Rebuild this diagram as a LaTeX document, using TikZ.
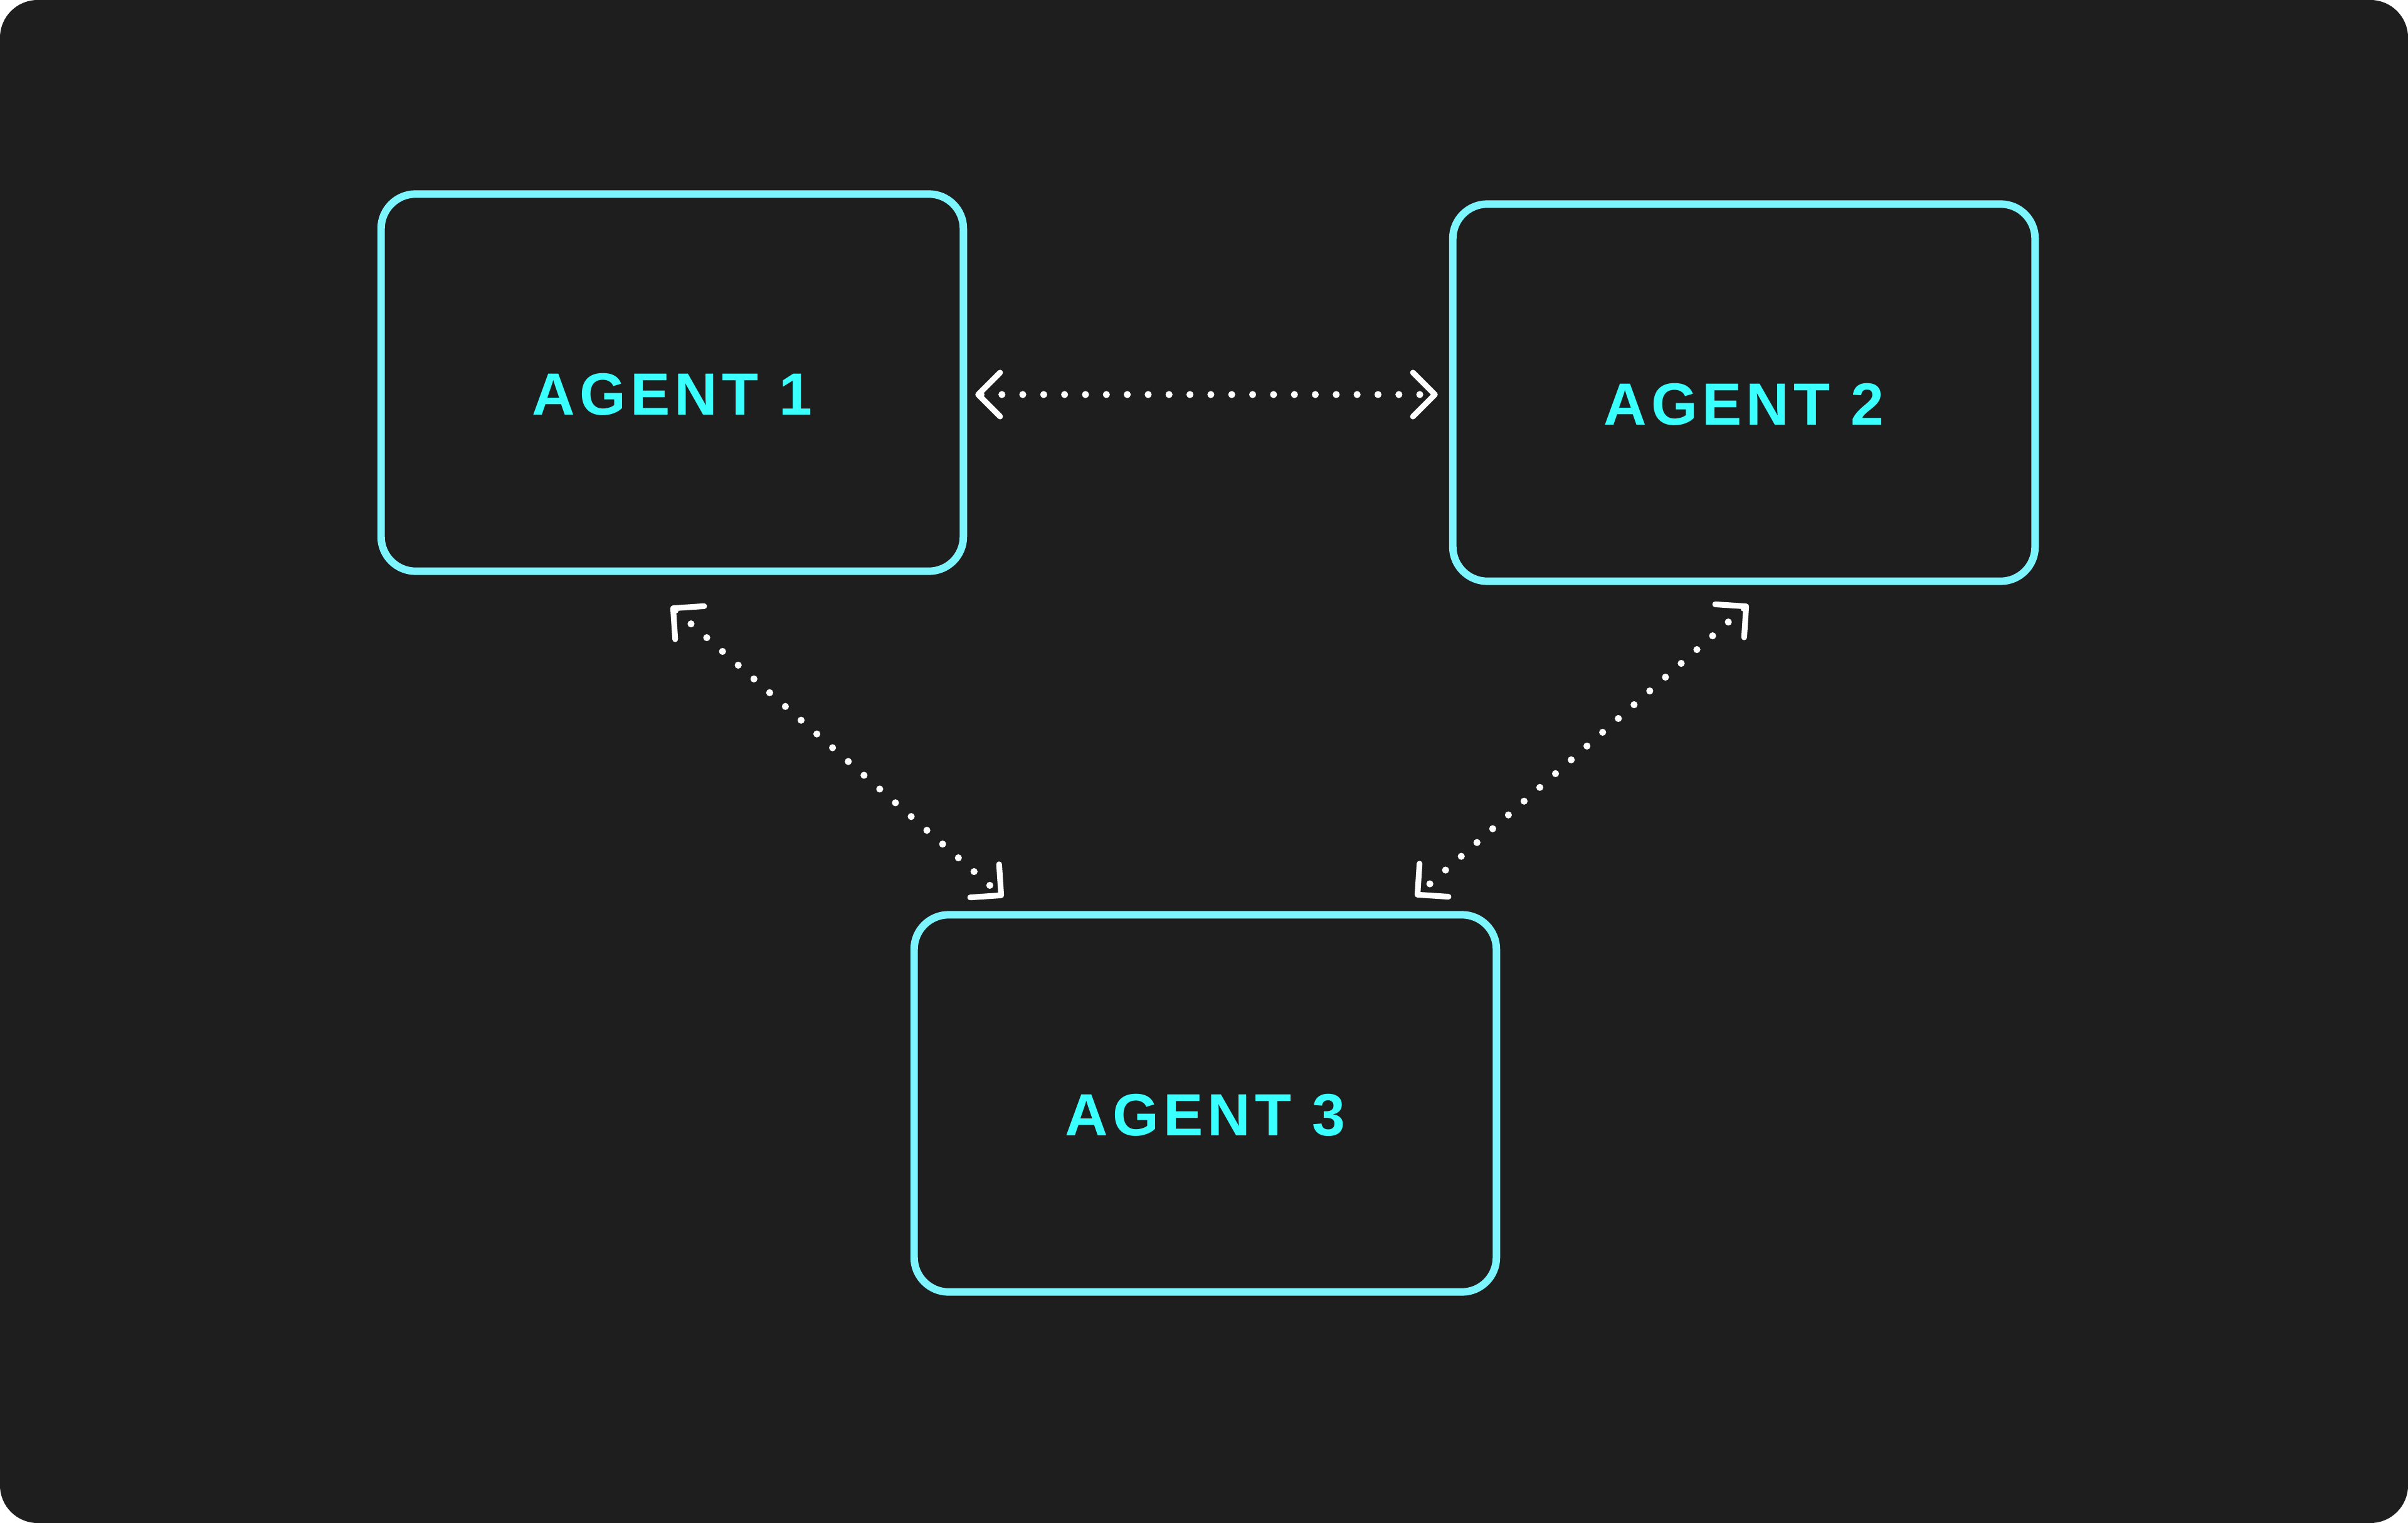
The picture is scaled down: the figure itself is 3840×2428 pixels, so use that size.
\documentclass[tikz,border=0pt]{standalone}
\usepackage{fontspec}
\setmainfont{Liberation Sans}
\newfontfamily\agentfam{Liberation Sans}[LetterSpace=7.5]
\usetikzlibrary{arrows.meta,calc}
\definecolor{bgdark}{RGB}{30,30,30}
\definecolor{agentline}{RGB}{125,245,255}
\definecolor{agenttext}{RGB}{58,255,255}
\tikzset{
  agent/.style={draw=agentline, line width=3.4pt, rounded corners=0.55cm,
    minimum width=9.28cm, minimum height=6.01cm, text=agenttext,
    font=\agentfam\bfseries\fontsize{27pt}{32pt}\selectfont,
    text height=1.03cm, text depth=0pt},
  link/.style={white, line width=3.2pt, line cap=round,
    dash pattern=on 0pt off 0.333cm, dash phase=0pt,
    >={Straight Barb[length=0.35cm, width=0.7cm, line width=2.6pt 0, round]}, <->}
}
\begin{document}
\begin{tikzpicture}[x=0.01cm, y=-0.01cm]
  \useasboundingbox (0,0) rectangle (3840,2428);
  \fill[bgdark, rounded corners=0.6cm] (0,0) rectangle (3840,2428);
  \node[agent] (a1) at (1072,610) {AGENT 1};
  \node[agent] (a2) at (2781,626) {AGENT 2};
  \node[agent] (a3) at (1922,1759) {AGENT 3};
  \draw[link] ($(a1.east)+(13,19)$) -- ($(a2.west)+(-18,3)$);
  \draw[link] ($(a1.south)+(-2,50)$) -- ($(a3.north)+(-322,-22)$);
  \draw[link] ($(a2.south)+(7,31)$) -- ($(a3.north)+(335,-23)$);
\end{tikzpicture}
\end{document}
